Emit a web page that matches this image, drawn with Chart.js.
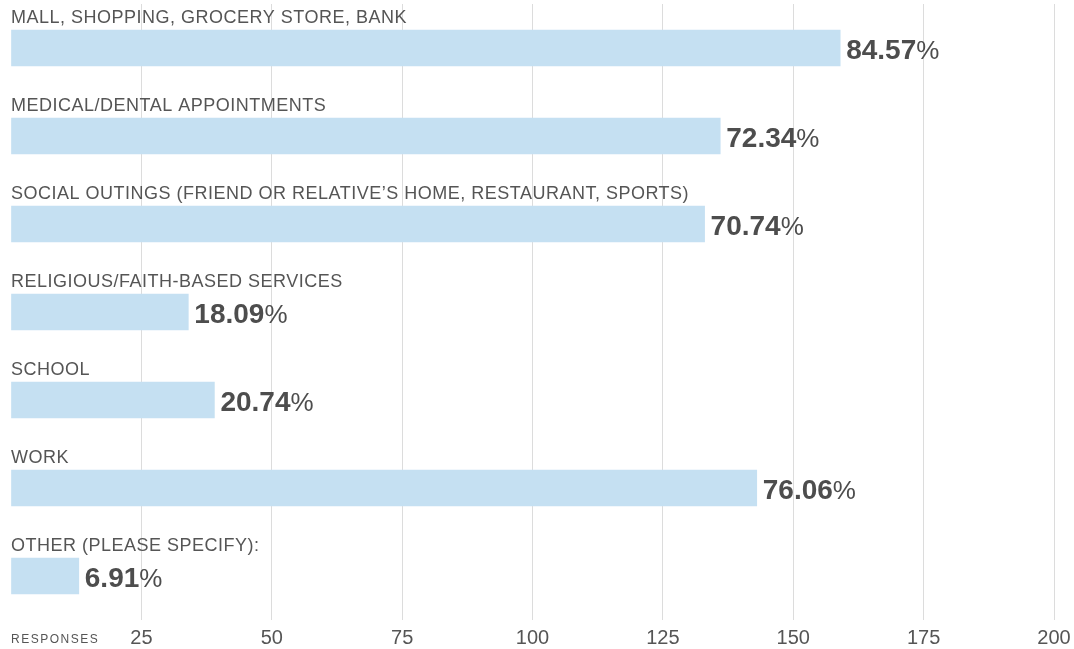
<!DOCTYPE html>
<html>
<head>
<meta charset="utf-8">
<script src="https://cdn.jsdelivr.net/npm/chart.js@4"></script>
<style>
  body { margin: 0; background: #fff; }
  #wrap { width: 1074px; height: 649px; position: relative; }
</style>
</head>
<body>
<div id="wrap"><canvas id="chart"></canvas></div>
<script>
const categories = [
  "MALL, SHOPPING, GROCERY STORE, BANK",
  "MEDICAL/DENTAL APPOINTMENTS",
  "SOCIAL OUTINGS (FRIEND OR RELATIVE\u2019S HOME, RESTAURANT, SPORTS)",
  "RELIGIOUS/FAITH-BASED SERVICES",
  "SCHOOL",
  "WORK",
  "OTHER (PLEASE SPECIFY):"
];
const responses = [159, 136, 133, 34, 39, 143, 13];
const percents = ["84.57", "72.34", "70.74", "18.09", "20.74", "76.06", "6.91"];
const axisTicks = [25, 50, 75, 100, 125, 150, 175, 200];

const FONT = "'Liberation Sans', Arial, sans-serif";
const TEXT = "#555";

// labels above bars, percentages after them, and the axis title
const barLabels = {
  id: "barLabels",
  afterDatasetsDraw(chart) {
    const ctx = chart.ctx;
    const area = chart.chartArea;
    const bars = chart.getDatasetMeta(0).data;
    ctx.save();
    bars.forEach((bar, i) => {
      const top = bar.y - bar.height / 2;
      ctx.fillStyle = TEXT;
      ctx.textBaseline = "alphabetic";
      ctx.textAlign = "left";
      ctx.font = "18px " + FONT;
      ctx.letterSpacing = "0.5px";
      ctx.fillText(categories[i], area.left, top - 7);

      ctx.letterSpacing = "0px";
      ctx.fillStyle = "#4d4d4d";
      ctx.font = "bold 28px " + FONT;
      const x = bar.x + 6;
      ctx.fillText(percents[i], x, bar.y + 11);
      const w = ctx.measureText(percents[i]).width;
      ctx.font = "26px " + FONT;
      ctx.fillText("%", x + w, bar.y + 11);
    });
    ctx.fillStyle = TEXT;
    ctx.font = "12px " + FONT;
    ctx.letterSpacing = "1.5px";
    ctx.fillText("RESPONSES", area.left, 643);
    ctx.restore();
  }
};

new Chart(document.getElementById("chart"), {
  type: "bar",
  data: {
    labels: categories,
    datasets: [{
      data: responses,
      backgroundColor: "#c5e0f2",
      barThickness: 36,
    }],
  },
  options: {
    indexAxis: "y",
    responsive: true,
    maintainAspectRatio: false,
    animation: false,
    layout: { padding: { left: 11, right: 20, top: 4, bottom: 0 } },
    plugins: {
      legend: { display: false },
      tooltip: { enabled: false },
    },
    scales: {
      x: {
        min: 0,
        max: 200,
        afterBuildTicks(axis) {
          axis.ticks = [0].concat(axisTicks).map((v) => ({ value: v }));
        },
        afterFit(axis) {
          axis.height = 29;
          axis.paddingLeft = 0;
          axis.paddingRight = 0;
        },
        grid: {
          drawTicks: false,
          color: (c) => (c.tick && c.tick.value === 0 ? "rgba(0,0,0,0)" : "#dcdcdc"),
        },
        border: { display: false },
        ticks: {
          padding: 6,
          color: TEXT,
          font: { family: FONT, size: 20 },
          callback: (v) => (v === 0 ? "" : v),
        },
      },
      y: { display: false },
    },
  },
  plugins: [barLabels],
});
</script>
</body>
</html>
